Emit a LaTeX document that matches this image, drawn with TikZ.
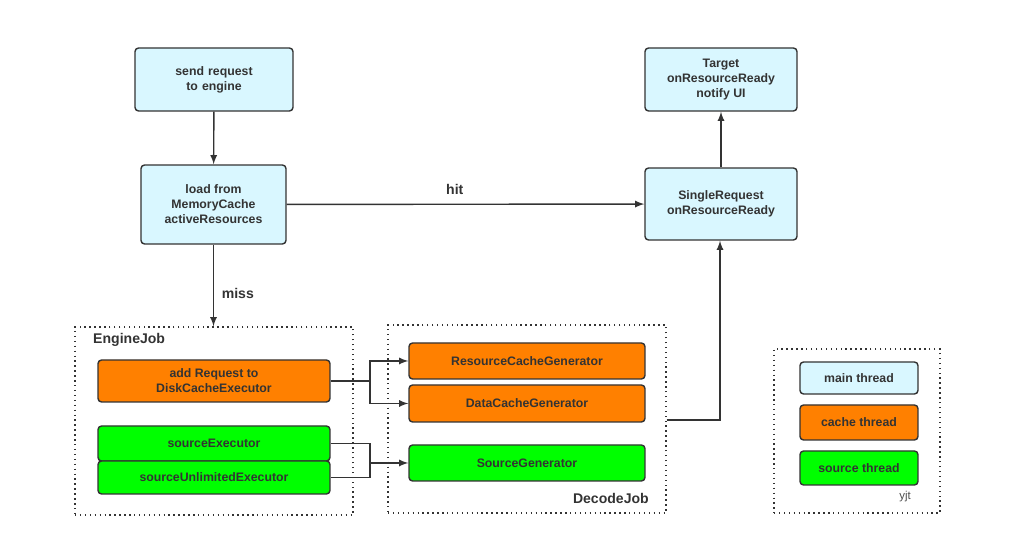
\documentclass[tikz,border=0pt]{standalone}
\usepackage{fontspec}
\setmainfont{Liberation Sans}
\usetikzlibrary{positioning, arrows}
\begin{document}
\begin{tikzpicture}[x=0.02cm, y=-0.02cm, >=latex]

        % Define block styles
        \tikzstyle{box} = [rectangle, draw=black!80, line width=0.8pt, rounded corners=2pt, inner sep=1pt, align=center, font=\fontsize{7}{8.5}\selectfont\bfseries, text=black!80]
        \tikzstyle{main} = [box, fill=blue!20!cyan!15]
        \tikzstyle{cache} = [box, fill=orange]
        \tikzstyle{source} = [box, fill=green]
        \tikzstyle{group} = [rectangle, draw=black!80, dotted, line width=0.8pt]
        \tikzstyle{lbl} = [font=\fontsize{8}{9}\selectfont\bfseries, text=black!80]
        \tikzstyle{arrow} = [line width=0.8pt, draw=black!80, ->]

        \useasboundingbox (0,0) rectangle (1019,553);

        % Groups
        \node (engine) [group, minimum width=5.56cm, minimum height=3.76cm] at (214,421) {};
        \node (decode) [group, minimum width=5.56cm, minimum height=3.76cm] at (527,419) {};
        \node (legend) [group, minimum width=3.32cm, minimum height=3.28cm] at (857,431) {};

        % Components
        \node (send) [main, minimum width=3.16cm, minimum height=1.26cm, text width=2.6cm] at (214,79.5) {send request to engine};
        \node (load) [main, minimum width=2.9cm, minimum height=1.58cm] at (213.5,204.5) {load from\\MemoryCache\\activeResources};
        \node (target) [main, minimum width=3.04cm, minimum height=1.26cm] at (721,79.5) {Target\\onResourceReady\\notify UI};
        \node (single) [main, minimum width=3.04cm, minimum height=1.44cm] at (721,204) {SingleRequest\\onResourceReady};
        \node (addreq) [cache, minimum width=4.64cm, minimum height=0.84cm] at (214,381) {add Request to\\DiskCacheExecutor};
        \node (srcexec) [source, minimum width=4.64cm, minimum height=0.7cm] at (214,443.5) {sourceExecutor};
        \node (srcunl) [source, minimum width=4.64cm, minimum height=0.66cm] at (214,477.5) {sourceUnlimitedExecutor};
        \node (rcg) [cache, minimum width=4.72cm, minimum height=0.72cm] at (527,361) {ResourceCacheGenerator};
        \node (dcg) [cache, minimum width=4.72cm, minimum height=0.74cm] at (527,403.5) {DataCacheGenerator};
        \node (sg) [source, minimum width=4.72cm, minimum height=0.72cm] at (527,463) {SourceGenerator};
        \node (lmain) [main, minimum width=2.36cm, minimum height=0.64cm] at (859,378) {main thread};
        \node (lcache) [cache, minimum width=2.36cm, minimum height=0.7cm] at (859,422.5) {cache thread};
        \node (lsource) [source, minimum width=2.36cm, minimum height=0.68cm] at (859,468) {source thread};

        % Junctions
        \coordinate (jc) at (370,381);
        \coordinate (js) at (370,463);
        \coordinate (jd) at (720,420);

        % Arrows
        \draw [arrow] (send) -- (load);
        \draw [arrow] (load) -- node[lbl, above=2pt, pos=0.47] {hit} (single);
        \draw [arrow] (load) -- node[lbl, right=1pt, pos=0.6] {miss} (engine.north -| load);
        \draw [arrow] (single) -- (target);
        \draw [line width=0.8pt, draw=black!80] (addreq.east |- jc) -- (jc);
        \draw [arrow] (jc) |- (rcg.west);
        \draw [arrow] (jc) |- (dcg.west);
        \draw [line width=0.8pt, draw=black!80] (srcexec.east) -| (js);
        \draw [line width=0.8pt, draw=black!80] (srcunl.east) -| (js);
        \draw [arrow] (js) -- (sg.west);
        \draw [arrow] (decode.east |- jd) -- (jd) -- (single.south -| jd);

        % Labels
        \node [lbl, anchor=west] at (87,340) {EngineJob};
        \node [lbl, anchor=east] at (655,498) {DecodeJob};
        \node [font=\fontsize{6.5}{8}\selectfont, text=black!70] at (905,497) {yjt};

\end{tikzpicture}
\end{document}
